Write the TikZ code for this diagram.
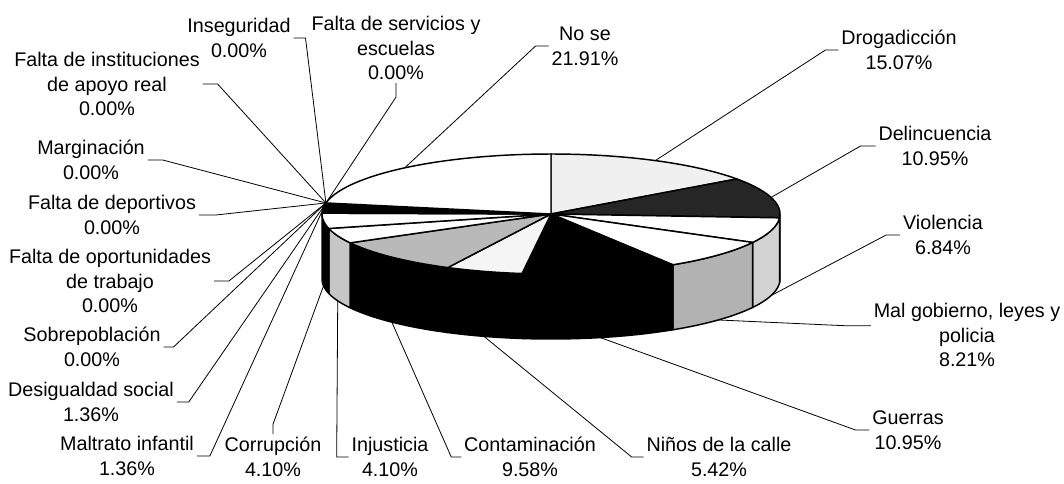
\documentclass[tikz,border=0pt]{standalone}
\usepackage{fontspec}
\setmainfont{Liberation Sans}
\tikzset{
  lbl/.style={align=center, inner sep=2pt, font=\fontsize{14.8}{18.7}\selectfont},
  leader/.style={draw, line width=0.6pt},
  slice/.style={draw, line width=1.1pt, line join=round},
}
\begin{document}
\begin{tikzpicture}[x=0.75pt, y=-0.75pt]
  \useasboundingbox (0,0) rectangle (1064,484);
  \coordinate (C) at (551,214);

  % side of the pie (front half only)
  \foreach \sa/\sb/\col in {90/93.67/black, 93.67/118.29/gray!35, 118.29/147.85/gray!60,
      147.85/187.27/black, 187.27/206.78/black, 206.78/241.27/black,
      241.27/256.03/gray!45, 256.03/270/black}
    \filldraw[slice, fill=\col] plot[domain=\sa:\sb, samples=20] ({551+229*sin(\x)},{214-60*cos(\x)})
      -- plot[domain=\sa:\sb, samples=20] ({551+229*sin(\sa+\sb-\x)},{279-60*cos(\sa+\sb-\x)}) -- cycle;

  % top of the pie
  \foreach \sa/\sb/\col in {0/54.25/gray!12, 54.25/93.67/black!85, 93.67/118.29/white,
      118.29/147.85/white, 147.85/187.27/black, 187.27/206.78/gray!8,
      206.78/241.27/gray!55, 241.27/256.03/white, 256.03/270.79/white,
      270.79/275.69/black, 275.69/280.59/black, 280.59/360/white}
    \filldraw[slice, fill=\col] (C) -- plot[domain=\sa:\sb, samples=30] ({551+229*sin(\x)},{214-60*cos(\x)}) -- cycle;

  % where the leaders meet the pie
  \foreach \n/\m/\dy in {nose/320.3/0, drog/27.1/0, delin/73.96/0, viol/105.98/65,
      malg/133.07/65, guer/167.56/65, ninos/197.03/65, conta/224.03/65,
      inju/248.65/65, corr/263.41/65, maltr/273.24/0, desig/278.14/0, zero/280.59/0}
    \coordinate (m-\n) at ({551+229*sin(\m)},{214-60*cos(\m)+\dy});

  % labels
  \node[lbl] (nose) at (585,46) {No se\\21.91\%};
  \node[lbl] (drog) at (899,50) {Drogadicción\\15.07\%};
  \node[lbl] (delin) at (935,146) {Delincuencia\\10.95\%};
  \node[lbl] (viol) at (943,235) {Violencia\\6.84\%};
  \node[lbl] (malg) at (967,335) {Mal gobierno, leyes y\\policia\\8.21\%};
  \node[lbl] (guer) at (908,430) {Guerras\\10.95\%};
  \node[lbl] (ninos) at (719,457) {Niños de la calle\\5.42\%};
  \node[lbl] (conta) at (530,457) {Contaminación\\9.58\%};
  \node[lbl] (inju) at (390,457) {Injusticia\\4.10\%};
  \node[lbl] (corr) at (273,457) {Corrupción\\4.10\%};
  \node[lbl] (maltr) at (127,456) {Maltrato infantil\\1.36\%};
  \node[lbl] (desig) at (91,402) {Desigualdad social\\1.36\%};
  \node[lbl] (sobre) at (92,347) {Sobrepoblación\\0.00\%};
  \node[lbl] (oport) at (110,281) {Falta de oportunidades\\de trabajo\\0.00\%};
  \node[lbl] (depor) at (112,215) {Falta de deportivos\\0.00\%};
  \node[lbl] (margi) at (91,160) {Marginación\\0.00\%};
  \node[lbl] (inst) at (107,84) {Falta de instituciones\\de apoyo real\\0.00\%};
  \node[lbl] (inseg) at (239,38) {Inseguridad\\0.00\%};
  \node[lbl] (serv) at (396,48) {Falta de servicios y\\escuelas\\0.00\%};

  % leaders
  \draw[leader] (nose.west) -- ++(-13,0) -- (m-nose);
  \draw[leader] (drog.west) -- ++(-13,0) -- (m-drog);
  \draw[leader] (delin.west) -- ++(-15,0) -- (m-delin);
  \draw[leader] (viol.west) -- ++(-14,0) -- (m-viol);
  \draw[leader] ([yshift=7pt]malg.west) -- ++(-27,0) -- (m-malg);
  \draw[leader] (guer.west) -- ++(-14,0) -- (m-guer);
  \draw[leader] (ninos.west) -- ++(-12,0) -- (m-ninos);
  \draw[leader] (conta.west) -- ++(-10,0) -- (m-conta);
  \draw[leader] (inju.west) -- ++(-12,0) -- (m-inju);
  \draw[leader] (corr.north) -- ++(0,-10) -- (m-corr);
  \draw[leader] (maltr.east) -- ++(13,0) -- (m-maltr);
  \draw[leader] (desig.east) -- ++(12,0) -- (m-desig);
  \draw[leader] (sobre.east) -- ++(10,0) -- (m-zero);
  \draw[leader] (oport.east) -- ++(15,0) -- (m-zero);
  \draw[leader] (depor.east) -- ++(17,0) -- (m-zero);
  \draw[leader] (margi.east) -- ++(15,0) -- (m-zero);
  \draw[leader] (inst.east) -- ++(15,0) -- (m-zero);
  \draw[leader] (inseg.east) -- ++(12,0) -- (m-zero);
  \draw[leader] (serv.south) -- ++(0,14) -- (m-zero);
\end{tikzpicture}
\end{document}
